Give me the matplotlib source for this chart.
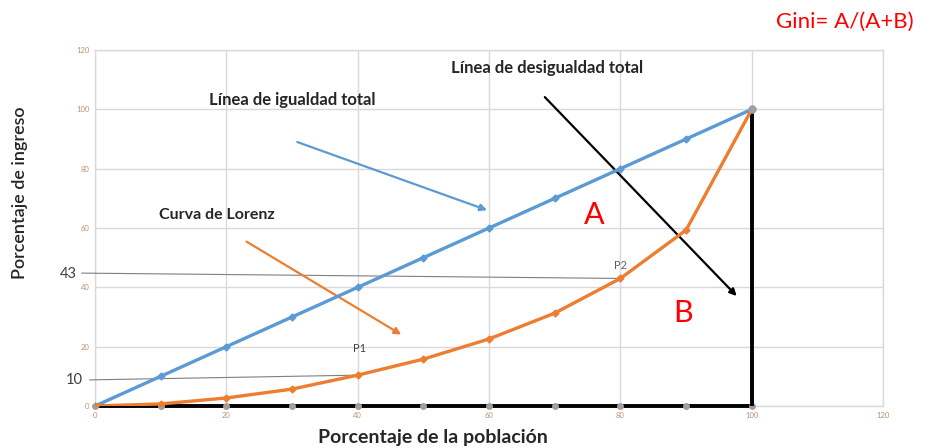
import matplotlib
matplotlib.use("Agg")
import matplotlib.pyplot as plt

pop = [0, 10, 20, 30, 40, 50, 60, 70, 80, 90, 100]
equality = [0, 10, 20, 30, 40, 50, 60, 70, 80, 90, 100]
lorenz = [0, 0.7, 2.7, 5.7, 10.4, 15.8, 22.6, 31.3, 43, 59.3, 100]
inequality = [0, 0, 0, 0, 0, 0, 0, 0, 0, 0, 0]
ticks = [0, 20, 40, 60, 80, 100, 120]

FONT = ["Lato", "DejaVu Sans"]
plt.rcParams['font.family'] = FONT

fig = plt.figure(figsize=(9.25, 4.48), dpi=100)
ax = fig.add_axes([0.1027, 0.09375, 0.852, 0.7946])
ax.set_xlim(0, 120)
ax.set_ylim(0, 120)
ax.set_xticks(ticks)
ax.set_yticks(ticks)
ax.grid(True, color='#d9d9d9', linewidth=1.0)
ax.set_axisbelow(True)
for s in ax.spines.values():
    s.set_color('#d9d9d9')
    s.set_linewidth(1.0)
ax.tick_params(length=0, labelsize=5.5, labelcolor='#c09070', pad=4)

# perfect inequality (black)
ax.plot(pop, inequality, color='black', linewidth=2.8, marker='o', markersize=4,
        markerfacecolor='#a0a0a0', markeredgecolor='#a0a0a0', zorder=4, clip_on=False)
ax.plot([pop[-1], pop[-1]], [0, equality[-1]], color='black', linewidth=2.8, zorder=4)

# equality line (blue)
ax.plot(pop, equality, color='#5b9bd5', linewidth=2.4, marker='D', markersize=3.5, zorder=5)
# lorenz curve (orange)
ax.plot(pop, lorenz, color='#ed7d31', linewidth=2.4, marker='D', markersize=3.5, zorder=5)
ax.plot([pop[-1]], [equality[-1]], marker='o', color='#a0a0a0', markersize=5, zorder=6)

# reference lines 43 and 10
ax.plot([-2, pop[8]], [44.8, lorenz[8]], color='#808080', linewidth=0.8, clip_on=False, zorder=3)
ax.plot([-0.8, pop[4]], [8.8, lorenz[4]], color='#808080', linewidth=0.8, clip_on=False, zorder=3)
ax.text(-4.1, 44.6, "43", fontsize=10.5, color='#404040', ha='center', va='center', clip_on=False)
ax.text(-3.1, 8.7, "10", fontsize=10.5, color='#404040', ha='center', va='center', clip_on=False)
ax.text(40.3, 19.5, "P1", fontsize=8, color='#404040', ha='center', va='center')
ax.text(80, 47.5, "P2", fontsize=8, color='#606060', ha='center', va='center')

# arrows
ax.annotate("", xy=(60.1, 65.7), xytext=(30.4, 89.3),
            arrowprops=dict(arrowstyle='-|>', color='#5b9bd5', lw=1.6, mutation_scale=10))
ax.annotate("", xy=(47.0, 23.6), xytext=(22.7, 55.9),
            arrowprops=dict(arrowstyle='-|>', color='#ed7d31', lw=1.6, mutation_scale=10))
ax.annotate("", xy=(98.0, 36.4), xytext=(68.2, 104.8),
            arrowprops=dict(arrowstyle='-|>', color='black', lw=1.6, mutation_scale=10))

# labels
ax.text(30.0, 103.3, "Línea de igualdad total", fontsize=12, fontweight='bold',
        color='#262626', ha='center', va='center')
ax.text(68.8, 114.0, "Línea de desigualdad total", fontsize=12, fontweight='bold',
        color='#262626', ha='center', va='center')
ax.text(18.6, 64.4, "Curva de Lorenz", fontsize=11.5, fontweight='bold',
        color='#262626', ha='center', va='center')
ax.text(76.0, 64.4, "A", fontsize=22, color='red', ha='center', va='center')
ax.text(89.5, 31.3, "B", fontsize=22, color='red', ha='center', va='center')

fig.text(845/925, 1 - 22/448, "Gini= A/(A+B)", fontsize=16, color='red', ha='center', va='center')

fig.text(433/925, 1 - 437/448, "Porcentaje de la población", fontsize=14, fontweight='bold',
         color='#262626', ha='center', va='center')
fig.text(20/925, 1 - 193/448, "Porcentaje de ingreso", fontsize=13, fontweight='semibold',
         color='#262626', ha='center', va='center', rotation=90)

fig.savefig("out.png", dpi=100)
